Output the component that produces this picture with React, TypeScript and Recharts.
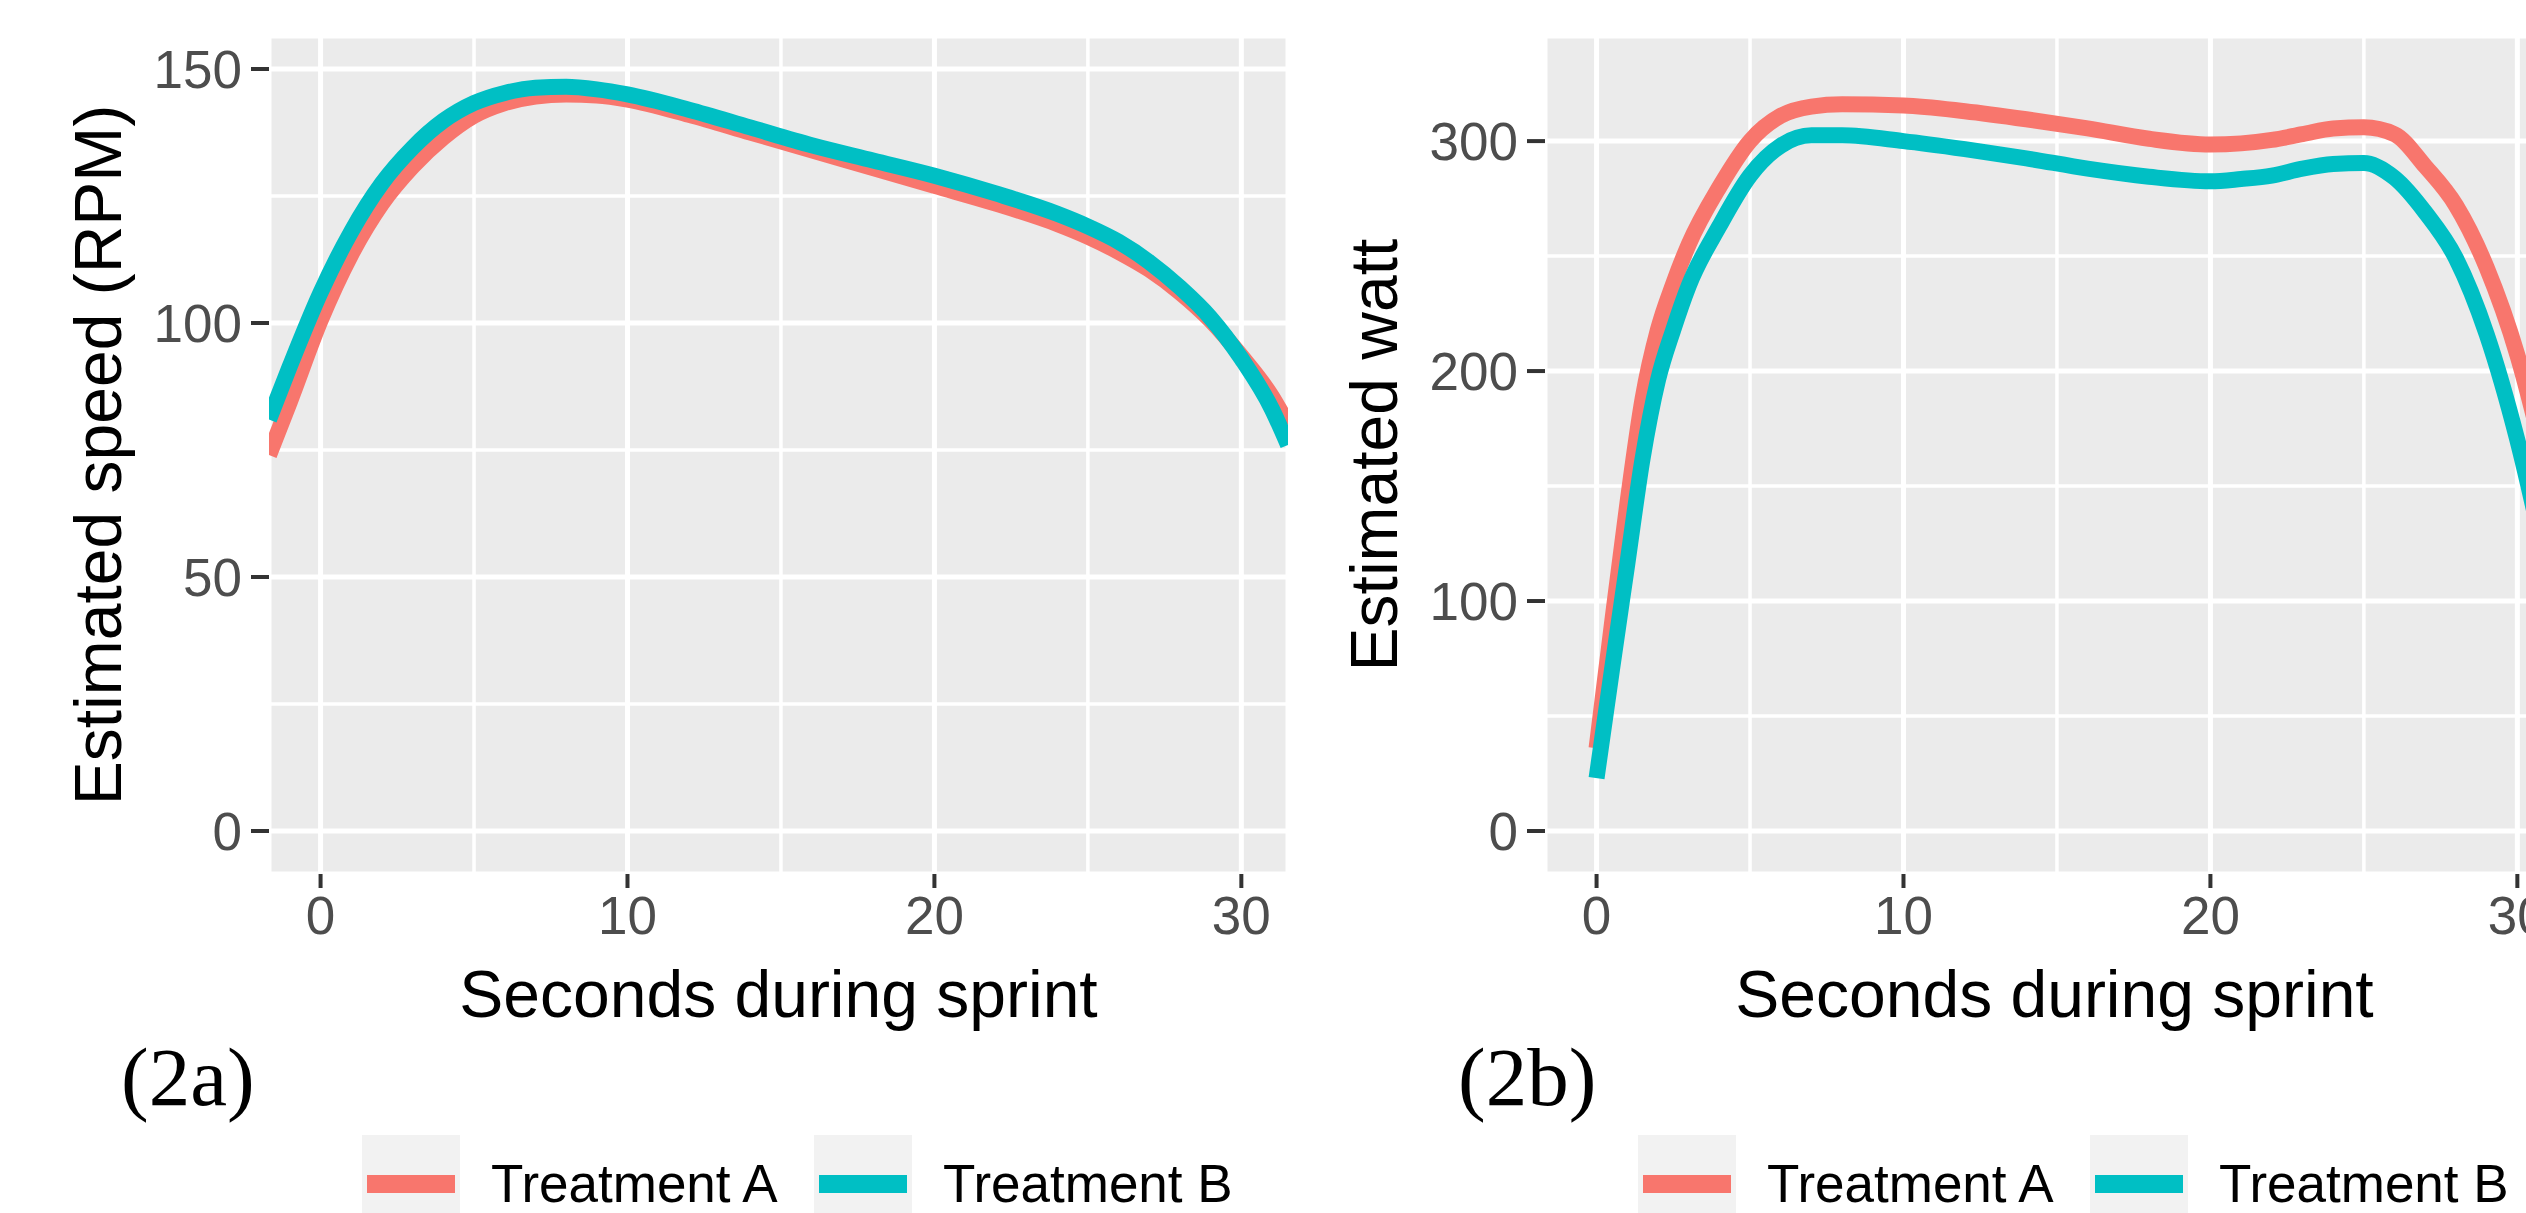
import { LineChart, Line, XAxis, YAxis, CartesianGrid } from "recharts"

const speedSeconds = [-1.68, -1, 0, 1, 2, 3, 4, 5, 6, 7, 8, 9, 10, 12, 14, 16, 18, 20, 22, 24, 25, 26, 27, 28, 29, 30, 31, 31.52]
const speedTreatmentA = [74, 84.5, 100.5, 113.5, 123.5, 130.8, 136.5, 140.8, 143.3, 144.6, 145, 144.8, 144, 141, 137.5, 134, 130.5, 127, 123.5, 119.5, 117, 114, 110.5, 106, 100.5, 93.5, 85.5, 80]
const speedTreatmentB = [81, 91.5, 106, 118, 127.5, 134.5, 139.8, 143.3, 145.3, 146.3, 146.5, 146, 145, 142, 138.5, 135, 132, 129, 125.5, 121.5, 119, 116, 112, 107, 101, 93, 83, 76]

const wattSeconds = [0, 0.5, 1, 1.5, 2, 2.5, 3, 4, 5, 6, 7, 8, 10, 12, 14, 16, 18, 20, 21, 22, 23, 24, 25, 26, 27, 28, 29, 30, 31]
const wattTreatmentA = [36, 90, 142, 188, 218, 238, 255, 280, 300, 311, 315, 316, 315.5, 313, 309.5, 305.5, 301, 298.5, 299, 300.5, 303, 305.5, 306, 303, 289, 272, 245, 207, 155]
const wattTreatmentB = [23, 70, 116, 162, 196, 218, 237, 263, 285, 298, 302.5, 302.5, 300, 296.5, 292.5, 288, 284.5, 282.5, 283.5, 285, 288, 290, 290.5, 284, 269, 249, 216, 170, 112]

const secondTicks = [0, 10, 20, 30]
const secondMinor = [5, 15, 25]
const speedTicks = [0, 50, 100, 150]
const speedMinor = [25, 75, 125]
const wattTicks = [0, 100, 200, 300]
const wattMinor = [50, 150, 250]

const treatments = ["Treatment A", "Treatment B"]
const treatmentColors = ["#F8766D", "#00BFC4"]

const SANS = "'Liberation Sans', Arial, sans-serif"
const SERIF = "'Liberation Serif', 'Times New Roman', serif"

const speedData = speedSeconds.map((t, i) => ({ t, a: speedTreatmentA[i], b: speedTreatmentB[i] }))
const wattData = wattSeconds.map((t, i) => ({ t, a: wattTreatmentA[i], b: wattTreatmentB[i] }))

// plot area inside each 1300x1213 panel
const PLOT_LEFT = 269
const PLOT_TOP = 36
const PLOT_W = 1019
const PLOT_H = 838

function Panel({ left, data, yDomain, yTicks, yMinor, yTitle, tag, tagX }: any) {
    const tickStyle = { fill: "#4D4D4D", fontSize: 53, fontFamily: SANS }
    const tickLine = { stroke: "#333333", strokeWidth: 4 }
    return (
        <div style={{ position: "absolute", left, top: 0, width: 1300, height: 1213 }}>
            <LineChart
                width={1300}
                height={1213}
                data={data}
                margin={{ top: PLOT_TOP, right: 1300 - PLOT_LEFT - PLOT_W, bottom: 0, left: 0 }}
            >
                <CartesianGrid
                    fill="#EBEBEB"
                    fillOpacity={1}
                    stroke="#FFFFFF"
                    strokeWidth={3.5}
                    horizontalValues={yMinor}
                    verticalValues={secondMinor}
                />
                <CartesianGrid stroke="#FFFFFF" strokeWidth={5} />
                <XAxis
                    type="number"
                    dataKey="t"
                    domain={[-1.68, 31.52]}
                    ticks={secondTicks}
                    interval={0}
                    allowDataOverflow
                    axisLine={false}
                    tickSize={14}
                    tickMargin={8}
                    tickLine={tickLine}
                    tick={tickStyle}
                    height={1213 - PLOT_TOP - PLOT_H}
                />
                <YAxis
                    type="number"
                    domain={yDomain}
                    ticks={yTicks}
                    interval={0}
                    allowDataOverflow
                    axisLine={false}
                    tickSize={18}
                    tickMargin={9}
                    tickLine={tickLine}
                    tick={tickStyle}
                    width={PLOT_LEFT}
                />
                <Line type="monotone" dataKey="a" name={treatments[0]} stroke={treatmentColors[0]} strokeWidth={16} dot={false} isAnimationActive={false} />
                <Line type="monotone" dataKey="b" name={treatments[1]} stroke={treatmentColors[1]} strokeWidth={16} dot={false} isAnimationActive={false} />
            </LineChart>
            <svg width={1300} height={1213} style={{ position: "absolute", left: 0, top: 0, pointerEvents: "none" }}>
                <text
                    x={121}
                    y={PLOT_TOP + PLOT_H / 2}
                    transform={`rotate(-90 121 ${PLOT_TOP + PLOT_H / 2})`}
                    textAnchor="middle"
                    fontSize={66}
                    fontFamily={SANS}
                    fill="#000"
                >
                    {yTitle}
                </text>
                <text x={PLOT_LEFT + PLOT_W / 2} y={1017} textAnchor="middle" fontSize={66} fontFamily={SANS} fill="#000">
                    Seconds during sprint
                </text>
                <text x={tagX} y={1105} fontSize={83} fontFamily={SERIF} fill="#000">
                    {tag}
                </text>
                {treatments.map((name, i) => {
                    const kx = PLOT_LEFT + 93 + i * 452
                    return (
                        <g key={name}>
                            <rect x={kx} y={1135} width={98} height={98} fill="#F2F2F2" />
                            <rect x={kx + 5} y={1175} width={88} height={18} fill={treatmentColors[i]} />
                            <text x={kx + 129} y={1202} fontSize={53} fontFamily={SANS} fill="#000">
                                {name}
                            </text>
                        </g>
                    )
                })}
            </svg>
        </div>
    )
}

export default function App() {
    return (
        <div style={{ position: "fixed", left: 0, top: 0, width: 2526, height: 1213, overflow: "hidden", background: "#fff" }}>
            <Panel
                left={0}
                data={speedData}
                yDomain={[-8.47, 156.5]}
                yTicks={speedTicks}
                yMinor={speedMinor}
                yTitle="Estimated speed (RPM)"
                tag="(2a)"
                tagX={121}
            />
            <Panel
                left={1276}
                data={wattData}
                yDomain={[-18.7, 345.7]}
                yTicks={wattTicks}
                yMinor={wattMinor}
                yTitle="Estimated watt"
                tag="(2b)"
                tagX={182}
            />
        </div>
    )
}
